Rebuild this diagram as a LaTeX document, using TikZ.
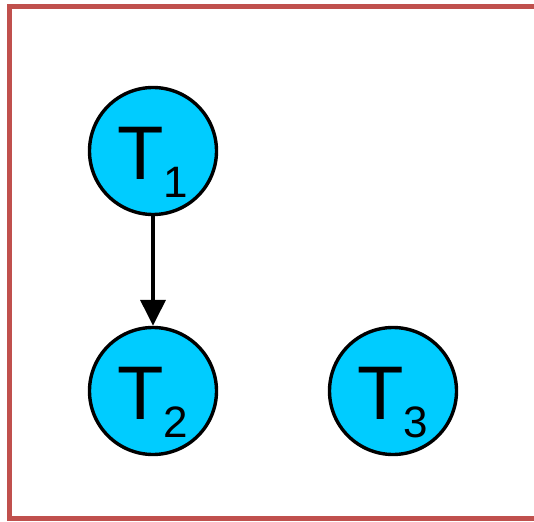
\documentclass[tikz,border=0pt]{standalone}
\usepackage{fontspec}
\setmainfont{Liberation Sans}
\usetikzlibrary{arrows.meta,positioning}
\definecolor{frameR}{RGB}{192,80,77}
\definecolor{taskC}{RGB}{0,204,255}
\newcommand{\tlabel}[1]{T\raisebox{-18pt}{\fontsize{44}{44}\selectfont #1}}

\begin{document}
\begin{tikzpicture}[x=1pt, y=-1pt, font=\fontsize{76}{76}\selectfont,
  >={Triangle[length=26pt, width=25pt]},
  task/.style={circle, draw=black, fill=taskC, line width=3.4pt, inner sep=0pt,
               minimum size=127pt, text height=60pt, text depth=4pt}]
  \useasboundingbox (0,0) rectangle (534,521);
  \draw[frameR, line width=5pt] (545,6.5) -- (9.5,6.5) -- (9.5,518.5) -- (545,518.5);

  \node[task] (t1) at (153,151) {\tlabel{1}};
  \node[task] (t2) at (153,391) {\tlabel{2}};
  \node[task] (t3) at (393,391) {\tlabel{3}};

  \draw[->, line width=3.6pt] (t1) -- (t2);
\end{tikzpicture}
\end{document}
